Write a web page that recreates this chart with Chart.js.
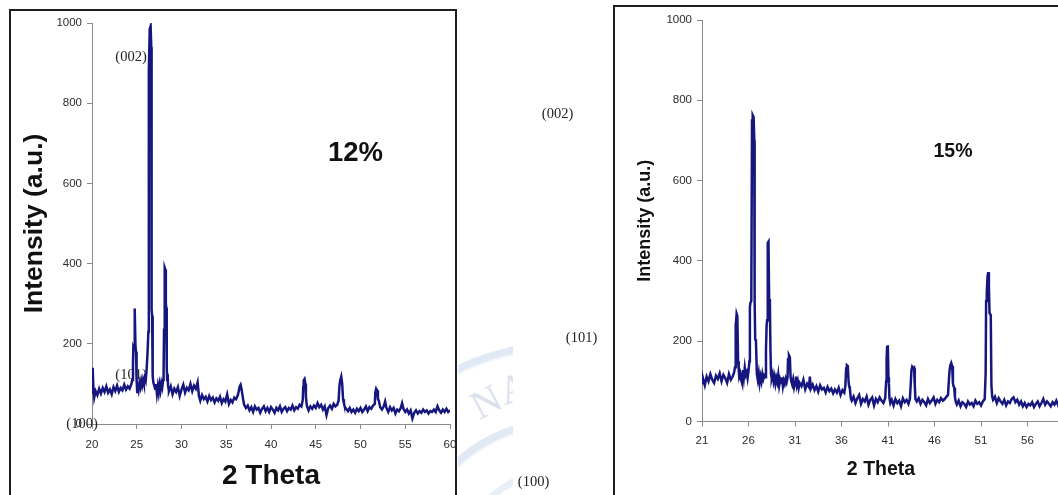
<!DOCTYPE html>
<html>
<head>
<meta charset="utf-8">
<script src="https://cdn.jsdelivr.net/npm/chart.js@4.4.1/dist/chart.umd.min.js"></script>
<style>
  html, body { margin: 0; padding: 0; background: #fff; }
  body { width: 1058px; height: 495px; overflow: hidden; position: relative; }
  canvas { position: absolute; top: 0; z-index: 1; }
  #xrd12 { left: 0; }
  #xrd15 { left: 458px; }
  .frame { position: absolute; border: 2px solid #1f1f1f; z-index: 2; pointer-events: none; }
  #frame12 { left: 9px; top: 9px; width: 444px; height: 600px; }
  #frame15 { left: 613px; top: 5px; width: 600px; height: 600px; }
  #seal { position: absolute; left: 0; top: 0; z-index: 0; }
</style>
</head>
<body>
<svg id="seal" width="1058" height="495">
  <defs><clipPath id="sealClip"><rect x="458" y="300" width="55" height="195"/></clipPath></defs>
  <g clip-path="url(#sealClip)" fill="none">
    <circle cx="560" cy="575" r="229" stroke="#e1eaf4" stroke-width="9"/>
    <circle cx="560" cy="575" r="225" stroke="#f4f8fc" stroke-width="2"/>
    <circle cx="560" cy="575" r="152" stroke="#e1eaf4" stroke-width="9"/>
    <circle cx="560" cy="575" r="148" stroke="#f4f8fc" stroke-width="2"/>
    <circle cx="560" cy="575" r="104" stroke="#e8eff7" stroke-width="7"/>
    <text x="473" y="422" transform="rotate(-28 473 408)" font-family="Liberation Serif" font-size="40" fill="#dbe2ec">N</text>
    <text x="500" y="406" transform="rotate(-18 500 392)" font-family="Liberation Serif" font-size="40" fill="#dbe2ec">A</text>
  </g>
</svg>
<canvas id="xrd12" width="457" height="495"></canvas>
<canvas id="xrd15" width="660" height="495"></canvas>
<div class="frame" id="frame12"></div>
<div class="frame" id="frame15"></div>
<script>
// ---- 12% sample: 2θ (deg) and intensity (a.u.) ----
const twoTheta12 = [
  20.0, 20.05, 20.1, 20.15, 20.25, 20.4, 20.6, 20.8, 21.0, 21.2, 21.4, 21.6, 21.8, 22.0, 22.2, 22.4, 22.6, 22.8, 23.0, 23.2, 23.4, 23.6, 23.8, 24.0, 24.2, 24.4,
  24.5, 24.58, 24.62, 24.7, 24.75, 24.8, 24.86, 24.92, 24.98, 25.05, 25.12, 25.2,
  25.3, 25.4, 25.5, 25.6, 25.7, 25.8, 25.9, 26.0,
  26.1, 26.2, 26.3, 26.35, 26.45, 26.55, 26.62, 26.66, 26.72, 26.78, 26.85, 26.95,
  27.05, 27.15, 27.25, 27.35, 27.45, 27.55, 27.65, 27.75, 27.85, 27.95,
  28.0, 28.05, 28.1, 28.15, 28.2, 28.25, 28.3, 28.35, 28.4, 28.45, 28.5,
  28.6, 28.8, 29.0, 29.2, 29.4, 29.6, 29.8, 30.0, 30.2, 30.4, 30.6, 30.8, 31.0, 31.2, 31.4, 31.6, 31.8,
  31.95, 32.1, 32.3, 32.5, 32.7, 32.9, 33.1, 33.3, 33.5, 33.7, 33.9, 34.1, 34.3, 34.5, 34.7, 34.9, 35.1, 35.3, 35.5, 35.7, 35.9, 36.1,
  36.3, 36.4, 36.5, 36.6, 36.7, 36.8, 36.9, 37.0,
  37.2, 37.4, 37.6, 37.8, 38.0, 38.2, 38.4, 38.6, 38.8, 39.0, 39.2, 39.4, 39.6, 39.8, 40.0, 40.2, 40.4, 40.6, 40.8, 41.0, 41.2, 41.4, 41.6, 41.8, 42.0, 42.2, 42.4, 42.6, 42.8, 43.0, 43.2, 43.4,
  43.55, 43.6, 43.65, 43.75, 43.85, 43.9, 44.0, 44.1,
  44.2, 44.4, 44.6, 44.8, 45.0, 45.2, 45.4, 45.6, 45.8, 46.0, 46.2, 46.4, 46.6, 46.8, 47.0, 47.2, 47.4,
  47.55, 47.65, 47.75, 47.85, 47.95, 48.05, 48.15, 48.25,
  48.4, 48.6, 48.8, 49.0, 49.2, 49.4, 49.6, 49.8, 50.0, 50.2, 50.4, 50.6, 50.8, 51.0, 51.2, 51.4,
  51.6, 51.65, 51.75, 51.85, 51.95, 52.05, 52.2,
  52.4, 52.6, 52.75, 52.9, 53.1, 53.3, 53.5, 53.7, 53.9, 54.1, 54.3, 54.5, 54.65, 54.8, 55.0, 55.2, 55.4, 55.6, 55.8, 56.0, 56.2, 56.4, 56.6, 56.8, 57.0, 57.2, 57.4, 57.6, 57.8, 58.0, 58.2, 58.4, 58.6, 58.8, 59.0, 59.2, 59.4, 59.6, 59.8, 60.0
];
const intensity12 = [
  78, 135, 140, 92, 66, 82, 72, 88, 76, 90, 80, 94, 78, 86, 74, 92, 82, 96, 80, 90, 84, 98, 86, 94, 88, 100,
  110, 150, 190, 185, 288, 284, 192, 180, 112, 80, 92, 84,
  102, 92, 108, 96, 110, 100, 115, 108,
  135, 175, 230, 880, 985, 992, 940, 285, 270, 120, 104, 96,
  88, 100, 76, 94, 78, 98, 84, 102, 92, 110,
  130, 235, 250, 390, 385, 300, 290, 140, 110, 125, 95,
  82, 94, 74, 88, 80, 92, 70, 86, 98, 78, 90, 84, 100, 82, 96, 88, 104,
  70, 58, 72, 62, 68, 56, 70, 60, 66, 54, 64, 58, 68, 52, 62, 56, 74, 50, 60, 54, 66, 62,
  72, 82, 94, 98, 88, 74, 60, 48,
  40, 46, 34, 42, 30, 44, 36, 40, 28, 38, 44, 32, 40, 30, 42, 36, 28, 40, 34, 44, 30, 38, 42, 32, 40, 36, 46, 34, 42, 38, 48, 44,
  60, 92, 108, 112, 100, 68, 46, 40,
  34, 44, 38, 46, 40, 52, 42, 48, 36, 44, 22, 40, 46, 38, 50, 44, 48,
  58, 96, 110, 118, 102, 62, 52, 42,
  38, 32, 40, 30, 36, 28, 38, 32, 40, 30, 36, 44, 32, 42, 38, 46,
  50, 78, 88, 84, 62, 58, 42,
  36, 44, 56, 40, 30, 42, 34, 40, 26, 36, 32, 40, 52, 38, 30, 36, 26, 34, 14, 28, 34, 26, 32, 28, 36, 30, 34, 26, 32, 30, 36, 30, 44, 34, 28, 36, 30, 38, 30, 34
];

// ---- 15% sample: 2θ (deg) and intensity (a.u.) ----
const twoTheta15 = [
  21.0, 21.1, 21.3, 21.5, 21.7, 21.9, 22.1, 22.3, 22.5, 22.7, 22.9, 23.1, 23.3, 23.5, 23.7, 23.9, 24.1, 24.3, 24.45,
  24.55, 24.6, 24.65, 24.72, 24.8, 24.88, 24.95, 25.0,
  25.1, 25.2, 25.3, 25.4, 25.5, 25.6, 25.7, 25.8, 25.9, 26.0,
  26.1, 26.15, 26.2, 26.3, 26.38, 26.45, 26.55, 26.62, 26.66, 26.72, 26.8, 26.9,
  27.0, 27.1, 27.2, 27.3, 27.4, 27.5, 27.6, 27.7, 27.8,
  27.88, 27.95, 28.0, 28.07, 28.15, 28.22, 28.3, 28.36, 28.42, 28.5,
  28.6, 28.7, 28.8, 28.9, 29.0, 29.1, 29.2, 29.3, 29.4, 29.5, 29.6, 29.7, 29.8, 29.9, 30.0, 30.1,
  30.2, 30.25, 30.35, 30.45, 30.52, 30.6,
  30.7, 30.8, 30.9, 31.0, 31.1, 31.2, 31.3, 31.4, 31.5, 31.7, 31.9, 32.1, 32.3, 32.5, 32.6, 32.7, 32.9, 33.1, 33.3, 33.5, 33.7, 33.9, 34.1, 34.3, 34.5, 34.7, 34.9, 35.1, 35.3, 35.5, 35.7, 35.9, 36.1, 36.3,
  36.42, 36.5, 36.58, 36.68, 36.76, 36.82, 36.9, 37.0,
  37.1, 37.3, 37.5, 37.7, 37.9, 38.1, 38.3, 38.5, 38.7, 38.9, 39.1, 39.3, 39.5, 39.7, 39.9, 40.1, 40.3, 40.5, 40.7,
  40.8, 40.85, 40.9, 40.98, 41.05, 41.1, 41.15, 41.25,
  41.4, 41.6, 41.8, 42.0, 42.2, 42.4, 42.6, 42.8, 43.0, 43.2, 43.35,
  43.45, 43.52, 43.6, 43.7, 43.8, 43.88, 43.95,
  44.1, 44.3, 44.5, 44.7, 44.9, 45.1, 45.3, 45.5, 45.7, 45.9, 46.1, 46.3, 46.5, 46.7, 46.9, 47.1, 47.3, 47.45,
  47.55, 47.62, 47.7, 47.8, 47.9, 47.98, 48.05, 48.12, 48.2, 48.3,
  48.4, 48.6, 48.8, 49.0, 49.2, 49.4, 49.6, 49.8, 50.0, 50.2, 50.4, 50.6, 50.8, 51.0, 51.2, 51.4,
  51.5, 51.55, 51.62, 51.7, 51.78, 51.85, 51.92, 52.05, 52.12, 52.2,
  52.3, 52.5, 52.7, 52.9, 53.1, 53.3, 53.5, 53.7, 53.9, 54.1, 54.3, 54.5, 54.7, 54.9, 55.1, 55.3, 55.5, 55.7, 55.9, 56.1, 56.3, 56.5, 56.7, 56.9, 57.1, 57.3, 57.5, 57.7, 57.9, 58.1, 58.3, 58.5, 58.7, 58.9, 59.1, 59.3, 59.5, 59.7, 60.0
];
const intensity15 = [
  96, 108, 90, 112, 100, 118, 104, 96, 114, 106, 120, 100, 116, 108, 96, 118, 104, 112, 122,
  135, 245, 235, 268, 262, 150, 128, 112,
  120, 104, 96, 128, 110, 134, 116, 122, 108, 126,
  150, 285, 295, 300, 750, 763, 758, 700, 300, 205, 200, 118,
  104, 120, 96, 112, 100, 118, 106, 114, 110,
  180, 240, 252, 445, 448, 305, 295, 180, 118, 108,
  118, 100, 112, 94, 108, 98, 116, 90, 104, 96, 110, 88, 102, 94, 106, 98,
  110, 155, 165, 160, 112, 100,
  92, 104, 86, 98, 112, 90, 100, 84, 96, 88, 104, 80, 94, 86, 112, 82, 92, 78, 88, 74, 90, 80, 84, 72, 86, 76, 82, 70, 80, 72, 84, 66, 78, 72,
  90, 132, 140, 138, 100, 88, 82, 58,
  52, 62, 46, 58, 66, 44, 56, 50, 62, 42, 54, 60, 40, 56, 48, 60, 52, 46, 58,
  100, 155, 185, 190, 110, 95, 60, 46,
  54, 40, 56, 46, 52, 38, 58, 48, 54, 44, 56,
  95, 128, 136, 132, 134, 90, 56,
  50, 58, 44, 54, 48, 40, 56, 46, 52, 60, 44, 54, 48, 58, 52, 56, 62, 66,
  105, 128, 140, 146, 138, 95, 88, 84, 60, 48,
  42, 52, 38, 48, 44, 36, 50, 42, 46, 38, 52, 44, 48, 40, 50, 56,
  120, 300, 320, 360, 372, 335, 270, 265, 90, 62,
  54, 62, 46, 58, 50, 44, 54, 40, 50, 46, 56, 60, 48, 54, 42, 50, 38, 46, 36, 44, 40, 48, 36, 44, 50, 38, 46, 56, 42, 50, 44, 38, 48, 42, 52, 40, 46, 38, 44
];

// ---- axis ticks ----
const xTicks12 = [20, 25, 30, 35, 40, 45, 50, 55, 60];
const xTicks15 = [21, 26, 31, 36, 41, 46, 51, 56, 61];
const yTicks = [0, 200, 400, 600, 800, 1000];

// ---- captions ----
const axisTitleX = '2 Theta';
const axisTitleY = 'Intensity (a.u.)';
const sampleLabels = ['12%', '15%'];
const reflections = ['(002)', '(101)', '(100)'];

const SANS = "'Liberation Sans', Arial, sans-serif";
const SERIF = "'Liberation Serif', 'Times New Roman', serif";
const LINE = '#16167f';
const AXIS = '#8a8a8a';

// Free text drawn on the canvas (sample tag, reflection indices, etc.)
const textMarks = {
  id: 'textMarks',
  beforeDatasetsDraw(chart, args, opts) {
    const ctx = chart.ctx;
    (opts.items || []).forEach(it => {
      ctx.save();
      ctx.font = it.font;
      ctx.fillStyle = it.color || '#1a1a1a';
      ctx.textAlign = 'center';
      ctx.textBaseline = 'middle';
      ctx.translate(it.x, it.y);
      if (it.rotate) ctx.rotate(it.rotate);
      ctx.fillText(it.text, 0, 0);
      ctx.restore();
    });
  }
};

function toPoints(xs, ys) {
  return xs.map((x, i) => ({ x: x, y: ys[i] }));
}

function buildChart(canvasId, cfg) {
  return new Chart(document.getElementById(canvasId), {
    type: 'line',
    data: {
      datasets: [{
        data: toPoints(cfg.xs, cfg.ys),
        borderColor: LINE,
        borderWidth: 2.5,
        pointRadius: 0,
        tension: 0,
        fill: false
      }]
    },
    options: {
      responsive: false,
      animation: false,
      devicePixelRatio: 1,
      layout: { padding: cfg.padding },
      plugins: {
        legend: { display: false },
        tooltip: { enabled: false },
        textMarks: { items: cfg.texts }
      },
      scales: {
        x: {
          type: 'linear',
          min: cfg.xTicks[0],
          max: cfg.xTicks[cfg.xTicks.length - 1],
          afterBuildTicks: s => { s.ticks = cfg.xTicks.map(v => ({ value: v })); },
          afterFit: s => { s.height = cfg.xAxisHeight; s.paddingLeft = 0; s.paddingRight = 0; },
          border: { display: true, color: AXIS, width: 1 },
          grid: { display: true, drawOnChartArea: false, drawTicks: true, tickLength: 5, color: AXIS },
          ticks: {
            autoSkip: false, maxRotation: 0, padding: cfg.xTickPad,
            color: '#2b2b2b', font: { family: SANS, size: cfg.tickSize },
            callback: v => String(v)
          },
          title: cfg.xTitle
        },
        y: {
          min: 0, max: 1000,
          afterBuildTicks: s => { s.ticks = yTicks.map(v => ({ value: v })); },
          afterFit: s => { s.width = cfg.yAxisWidth; s.paddingTop = 0; s.paddingBottom = 0; },
          border: { display: true, color: AXIS, width: 1 },
          grid: { display: true, drawOnChartArea: false, drawTicks: true, tickLength: 5, color: AXIS },
          ticks: {
            padding: 5,
            color: '#2b2b2b', font: { family: SANS, size: cfg.tickSize },
            callback: v => String(v)
          },
          title: cfg.yTitle
        }
      }
    },
    plugins: [textMarks]
  });
}

// 12% pattern
buildChart('xrd12', {
  xs: twoTheta12, ys: intensity12, xTicks: xTicks12,
  padding: { top: 23, right: 7, left: 0, bottom: 0 },
  yAxisWidth: 92, xAxisHeight: 71, xTickPad: 9, tickSize: 11.5,
  xTitle: { display: true, text: axisTitleX, color: '#111',
            font: { family: SANS, size: 28, weight: 'bold' }, padding: { top: 0, bottom: 2 } },
  yTitle: { display: true, text: axisTitleY, color: '#111',
            font: { family: SANS, size: 26.5, weight: 'bold' }, padding: { top: 18.5, bottom: 0 } },
  texts: [
    { text: sampleLabels[0], x: 355.5, y: 153, font: 'bold 27.5px ' + SANS, color: '#111' },
    { text: reflections[0], x: 131, y: 57, font: '14.5px ' + SERIF, color: '#222' },
    { text: reflections[1], x: 131, y: 375, font: '14.5px ' + SERIF, color: '#222' },
    { text: reflections[2], x: 82, y: 424, font: '14.5px ' + SERIF, color: '#222' }
  ]
});

// 15% pattern (canvas starts at x = 458 on the page)
buildChart('xrd15', {
  xs: twoTheta15, ys: intensity15, xTicks: xTicks15,
  padding: { top: 20, right: 44, left: 0, bottom: 0 },
  yAxisWidth: 244, xAxisHeight: 73.5, xTickPad: 7.5, tickSize: 11.5,
  xTitle: { display: false },
  yTitle: { display: true, text: axisTitleY, color: '#111',
            font: { family: SANS, size: 18, weight: 'bold' }, padding: { top: 176.5, bottom: 0 } },
  texts: [
    { text: axisTitleX, x: 423, y: 470, font: 'bold 19.5px ' + SANS, color: '#111' },
    { text: sampleLabels[1], x: 495, y: 152, font: 'bold 19.5px ' + SANS, color: '#111' },
    { text: reflections[0], x: 99.5, y: 114, font: '14.5px ' + SERIF, color: '#222' },
    { text: reflections[1], x: 123.5, y: 338, font: '14.5px ' + SERIF, color: '#222' },
    { text: reflections[2], x: 75.5, y: 482, font: '14.5px ' + SERIF, color: '#222' }
  ]
});
</script>
</body>
</html>
